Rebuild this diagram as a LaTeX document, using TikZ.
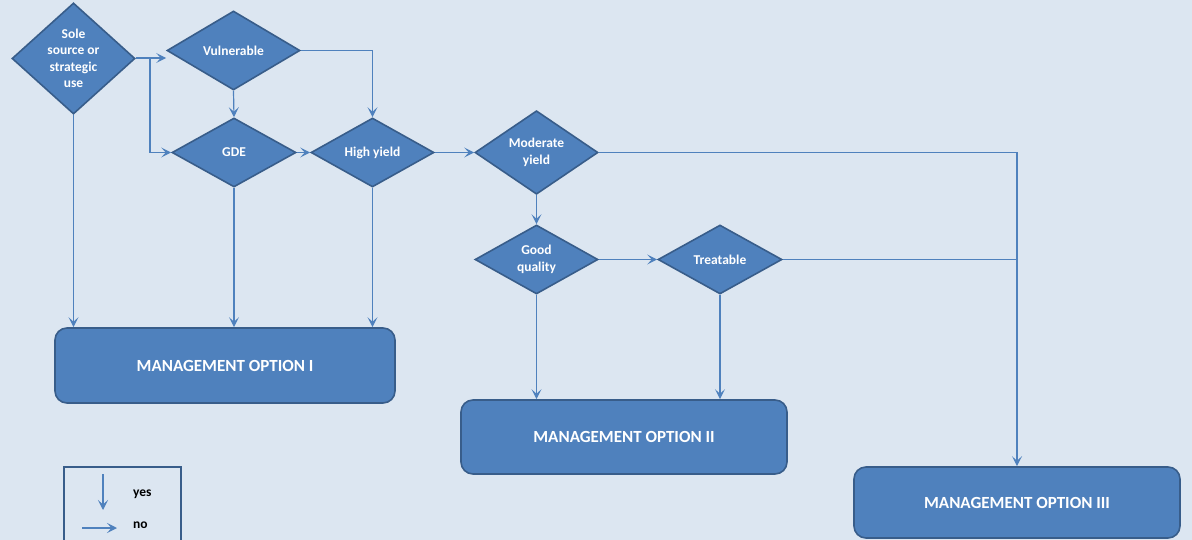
\documentclass[tikz,border=0pt]{standalone}
\usepackage{fontspec}
\setmainfont{Carlito}
\usetikzlibrary{shapes.geometric,arrows.meta}
\definecolor{bgblue}{HTML}{DCE6F1}
\definecolor{fillblue}{HTML}{4F81BD}
\definecolor{edgeblue}{HTML}{385D8A}
\definecolor{lineblue}{HTML}{4F81BD}
\begin{document}
\begin{tikzpicture}[x=1pt,y=-1pt,
  dia/.style={diamond, draw=edgeblue, line width=1.6pt, fill=fillblue, text=white,
    inner sep=0pt, align=center, font=\bfseries\fontsize{13.5}{16.5}\selectfont,
    minimum width=123pt, minimum height=69pt},
  optbox/.style={rectangle, rounded corners=12pt, draw=edgeblue, line width=1.6pt,
    fill=fillblue, text=white, font=\bfseries\fontsize{17}{19}\selectfont,
    minimum width=340pt, minimum height=75pt},
  link/.style={draw=lineblue, line width=1.2pt},
  arr/.style={link, -{Stealth[length=10pt,width=10pt,inset=4.5pt]}},
  legtext/.style={font=\bfseries\fontsize{13.5}{15}\selectfont, anchor=west, inner sep=0pt}
]
% page background
\fill[bgblue] (0,0) rectangle (1192,540);
\useasboundingbox (0,0) rectangle (1192,540);

% decision diamonds
\node[dia, minimum width=123pt, minimum height=93pt] (sole) at (73.5,58.5) {Sole\\source or\\strategic\\use};
\node[dia, minimum width=133pt, minimum height=79pt] (vul) at (233.5,50.5) {Vulnerable};
\node[dia, minimum width=124pt] (gde) at (234,152.5) {GDE};
\node[dia] (high) at (372.5,152.5) {High yield};
\node[dia] (mod) at (536.5,152.5) {Moderate\\yield};
\node[dia] (good) at (536.5,259.5) {Good\\quality};
\node[dia, minimum width=124pt] (treat) at (720,259.5) {Treatable};

% management options
\node[optbox] (m1) at (225,365.5) {MANAGEMENT OPTION I};
\node[optbox, minimum width=326pt, minimum height=74pt] (m2) at (624,437) {MANAGEMENT OPTION II};
\node[optbox, minimum width=326pt, minimum height=71pt] (m3) at (1017,502.5) {MANAGEMENT OPTION III};

% junction points
\coordinate (split) at (150,58);
\coordinate (join) at (1017,153);

% connectors
\draw[link] (sole.east |- split) -- (split);
\draw[arr] (split) -- (split -| vul.west);
\draw[arr] (split) |- (gde.west);
\draw[arr] (vul.south) -- (gde.north);
\draw[arr] (vul.east) -| (high.north);
\draw[arr] (gde.east) -- (high.west);
\draw[arr] (high.east) -- (mod.west);
\draw[arr] (mod.east) -| (m3.north);
\draw[arr] (mod.south) -- (good.north);
\draw[arr] (good.east) -- (treat.west);
\draw[link] (treat.east) -- (treat.east -| join);
\draw[arr] (sole.south) -- (sole.south |- m1.north);
\draw[arr] (gde.south) -- (gde.south |- m1.north);
\draw[arr] (high.south) -- (high.south |- m1.north);
\draw[arr] (good.south) -- (good.south |- m2.north);
\draw[arr] (treat.south) -- (treat.south |- m2.north);

% legend
\node[draw=edgeblue, line width=2pt, minimum width=117pt, minimum height=80pt] (legend) at (122.5,507) {};
\coordinate (ytop) at (103,474);
\coordinate (ybot) at (103,510);
\coordinate (nleft) at (82,528);
\coordinate (nright) at (117,528);
\draw[arr] (ytop) -- (ybot);
\draw[arr] (nleft) -- (nright);
\node[legtext] (yes) at (133,494.5) {yes};
\node[legtext] (no) at (133,525.5) {no};
\end{tikzpicture}
\end{document}
